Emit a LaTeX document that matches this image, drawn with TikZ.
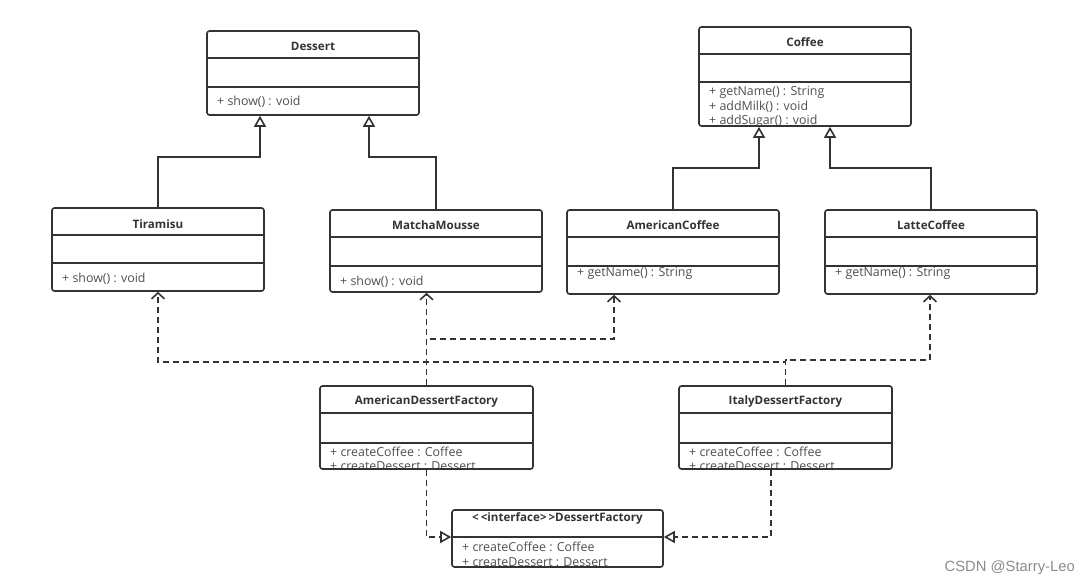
\documentclass[tikz,border=0pt]{standalone}
\usepackage{fontspec}
\setmainfont{Open Sans}
\newfontfamily\wmfont{Liberation Sans}
\usetikzlibrary{arrows.meta,fit}
\definecolor{umlline}{HTML}{333333}
\definecolor{umltext}{HTML}{333333}
\definecolor{optext}{HTML}{505050}
\definecolor{wmgray}{HTML}{8C8C8C}
\tikzset{
  classbox/.style={draw=umlline, line width=1.6pt, rounded corners=2.5pt, inner sep=0pt, fill=none},
  divline/.style={draw=umlline, line width=1.6pt},
  title/.style={font=\fontsize{11.6}{13}\selectfont\bfseries, text=umltext, inner sep=0pt},
  op/.style={font=\fontsize{12.4}{14}\selectfont, text=optext, anchor=west, inner sep=0pt},
  gen/.style={draw=umlline, line width=1.6pt, -{Triangle[open,length=11pt,width=12pt,line width=1.6pt]}},
  dep/.style={draw=umlline, line width=1.6pt, dash pattern=on 6pt off 4pt, -{Straight Barb[length=6pt,width=13pt,line width=1.6pt]}},
  real/.style={draw=umlline, line width=1.6pt, dash pattern=on 6pt off 4pt, -{Triangle[open,length=11pt,width=12pt,line width=1.6pt]}},
}
\begin{document}
\begin{tikzpicture}[x=1pt,y=-1pt]
\useasboundingbox[fill=white] (0,0) rectangle (1089,586);

% ---- text first, borders drawn over it ----
% Dessert
\node[title] (dessert-t) at (313,46) {Dessert};
\node[op] (dessert-o1) at (217,102) {+ show() : void};
% Coffee
\node[title] (coffee-t) at (805,42) {Coffee};
\node[op] (coffee-o1) at (709,92) {+ getName() : String};
\node[op] (coffee-o2) at (709,106.5) {+ addMilk() : void};
\node[op] (coffee-o3) at (709,121) {+ addSugar() : void};
% Tiramisu
\node[title] (tiramisu-t) at (158,224) {Tiramisu};
\node[op] (tiramisu-o1) at (62,279) {+ show() : void};
% MatchaMousse
\node[title] (matcha-t) at (436,225) {MatchaMousse};
\node[op] (matcha-o1) at (340,282) {+ show() : void};
% AmericanCoffee
\node[title] (amcoffee-t) at (673,225) {AmericanCoffee};
\node[op] (amcoffee-o1) at (577,273) {+ getName() : String};
% LatteCoffee
\node[title] (latte-t) at (931,225) {LatteCoffee};
\node[op] (latte-o1) at (835,273) {+ getName() : String};
% AmericanDessertFactory
\node[title] (adf-t) at (426.5,401) {AmericanDessertFactory};
\node[op] (adf-o1) at (330,452) {+ createCoffee : Coffee};
\node[op] (adf-o2) at (330,466.5) {+ createDessert : Dessert};
% ItalyDessertFactory
\node[title] (idf-t) at (785.5,401) {ItalyDessertFactory};
\node[op] (idf-o1) at (689,452) {+ createCoffee : Coffee};
\node[op] (idf-o2) at (689,466.5) {+ createDessert : Dessert};
% DessertFactory
\node[title] (dfac-t) at (557.5,518) {<\,<interface>\,>DessertFactory};
\node[op] (dfac-o1) at (462,547) {+ createCoffee : Coffee};
\node[op] (dfac-o2) at (462,562) {+ createDessert : Dessert};

% ---- boxes ----
\node[classbox, fit={(207,31) (419,115)}] (dessert) {};
\node[classbox, fit={(699,27) (911,126)}] (coffee) {};
\node[classbox, fit={(52,208) (264,291)}] (tiramisu) {};
\node[classbox, fit={(330,210) (542,292)}] (matcha) {};
\node[classbox, fit={(567,210) (779,294)}] (amcoffee) {};
\node[classbox, fit={(825,210) (1037,294)}] (latte) {};
\node[classbox, fit={(320,386) (533,469)}] (adf) {};
\node[classbox, fit={(679,386) (892,469)}] (idf) {};
\node[classbox, fit={(452,510) (663,567)}] (dfac) {};

% ---- dividers ----
\draw[divline] (dessert.west |- 0,58) -- (dessert.east |- 0,58);
\draw[divline] (dessert.west |- 0,87) -- (dessert.east |- 0,87);
\draw[divline] (coffee.west |- 0,54) -- (coffee.east |- 0,54);
\draw[divline] (coffee.west |- 0,82) -- (coffee.east |- 0,82);
\draw[divline] (tiramisu.west |- 0,235) -- (tiramisu.east |- 0,235);
\draw[divline] (tiramisu.west |- 0,263) -- (tiramisu.east |- 0,263);
\draw[divline] (matcha.west |- 0,237) -- (matcha.east |- 0,237);
\draw[divline] (matcha.west |- 0,266) -- (matcha.east |- 0,266);
\draw[divline] (amcoffee.west |- 0,237) -- (amcoffee.east |- 0,237);
\draw[divline] (amcoffee.west |- 0,266) -- (amcoffee.east |- 0,266);
\draw[divline] (latte.west |- 0,237) -- (latte.east |- 0,237);
\draw[divline] (latte.west |- 0,266) -- (latte.east |- 0,266);
\draw[divline] (adf.west |- 0,413) -- (adf.east |- 0,413);
\draw[divline] (adf.west |- 0,443) -- (adf.east |- 0,443);
\draw[divline] (idf.west |- 0,413) -- (idf.east |- 0,413);
\draw[divline] (idf.west |- 0,443) -- (idf.east |- 0,443);
\draw[divline] (dfac.west |- 0,537) -- (dfac.east |- 0,537);

% ---- generalization ----
\draw[gen] (tiramisu.north) |- (260,157) -- (dessert.south -| 260,0);
\draw[gen] (matcha.north) |- (369,157) -- (dessert.south -| 369,0);
\draw[gen] (amcoffee.north) |- (759,168) -- (coffee.south -| 759,0);
\draw[gen] (latte.north) |- (830,168) -- (coffee.south -| 830,0);

% ---- dependencies ----
\draw[dep] (adf.north) -- (matcha.south -| adf.north);
\draw[dep] (adf.north) |- (614,339) -- (amcoffee.south -| 614,0);
\draw[dep] (idf.north) |- (158,362) -- (tiramisu.south);
\draw[dep] (idf.north) |- (930,360) -- (latte.south -| 930,0);

% ---- realization ----
\draw[real] (adf.south) |- (dfac.west |- 0,537);
\draw[real] (idf.south -| 771,0) |- (dfac.east |- 0,537);

% watermark
\node[font=\fontsize{14.8}{17}\selectfont\wmfont, text=wmgray, anchor=east, inner sep=0pt] (wm) at (1075,568) {CSDN @Starry-Leo};
\end{tikzpicture}
\end{document}
